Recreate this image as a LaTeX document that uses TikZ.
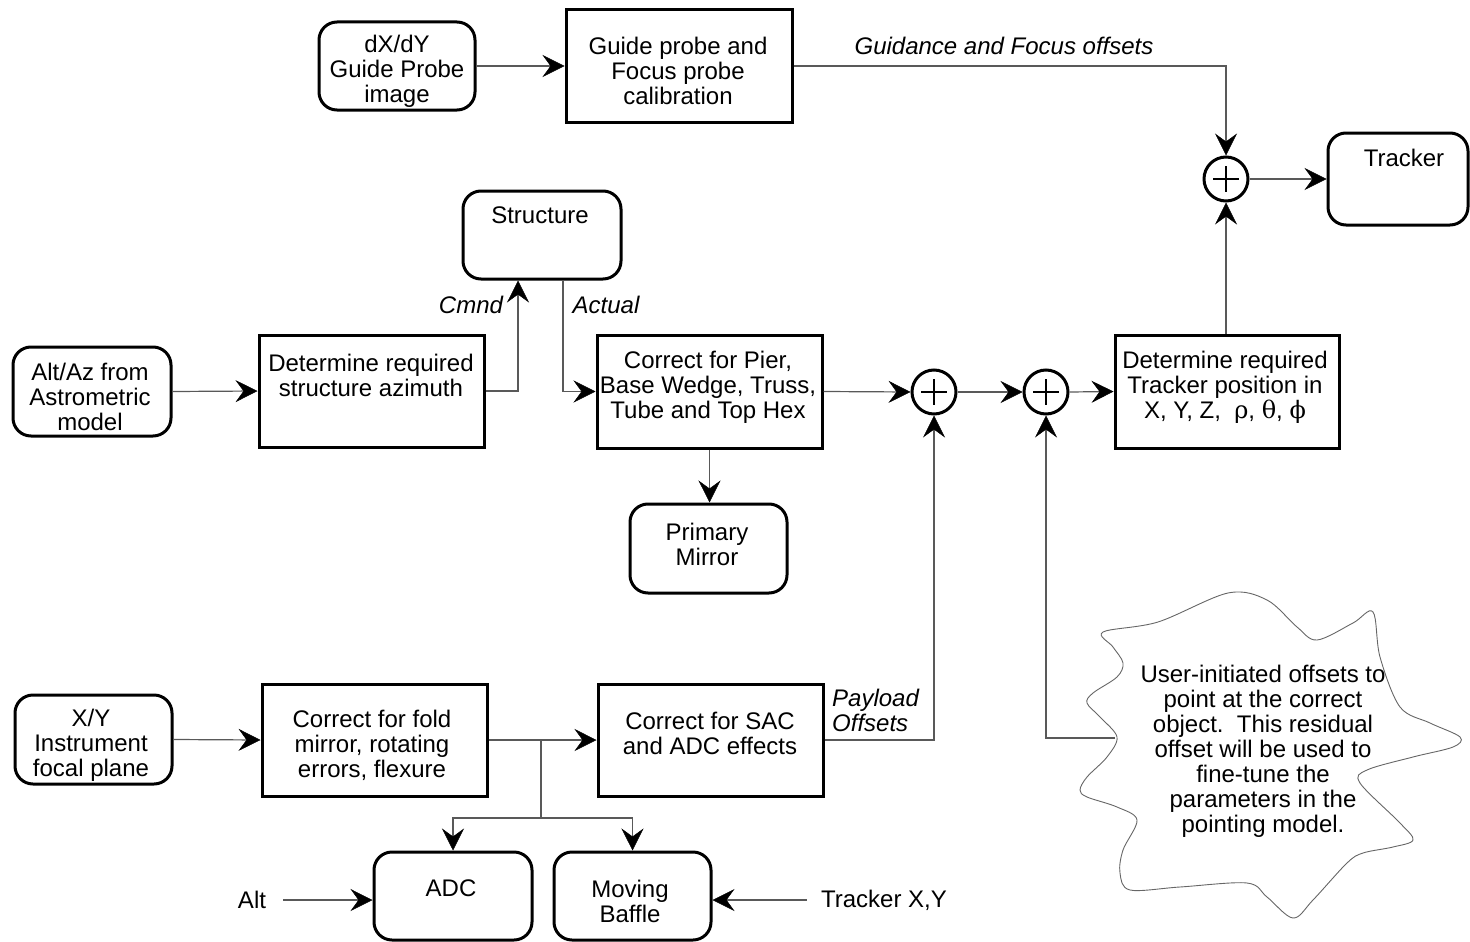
\documentclass[tikz,border=0pt]{standalone}
\usepackage{fontspec}
\setmainfont{Liberation Sans}
\newfontfamily\grk{DejaVu Serif}
\usetikzlibrary{arrows.meta}
\begin{document}
\begin{tikzpicture}[x=1pt,y=-1pt,
  every node/.style={font=\fontsize{24}{25}\selectfont, inner sep=0pt, align=center},
  sqbox/.style={draw, line width=3pt, minimum width=#1},
  rbox/.style={draw, line width=3pt, rounded corners=18pt, minimum width=#1},
  sumnode/.style={draw, circle, line width=3pt, minimum size=44pt},
  conn/.style={draw=black!65, line width=1.2pt},
  arr/.style={conn, -{Stealth[length=22pt,width=22pt,inset=8pt,fill=black,color=black,line width=0.5pt]}},
  lbl/.style={font=\fontsize{24}{25}\selectfont\itshape}
]
\useasboundingbox (0,0) rectangle (1470,942);

% ---- boxes ----
\node[rbox=156pt, minimum height=88pt] (dxdy) at (397,66) {};
\node at (397,71) {dX/dY\\Guide Probe\\image};
\node[sqbox=226pt, minimum height=112pt] (gpc) at (679,66) {};
\node at (678,71) {Guide probe and\\Focus probe\\calibration};

\node[rbox=140pt, minimum height=92pt] (trk) at (1398,179) {};
\node at (1404,158) {Tracker};

\node[rbox=158pt, minimum height=88pt] (struct) at (542,235) {};
\node at (540,215) {Structure};

\node[rbox=158pt, minimum height=89pt] (altaz) at (92,391.5) {};
\node at (90,397) {Alt/Az from\\Astrometric\\model};
\node[sqbox=225pt, minimum height=112pt] (dsa) at (371.5,391) {};
\node at (371,375) {Determine required\\structure azimuth};
\node[sqbox=225pt, minimum height=113pt] (cpier) at (709.5,391.5) {};
\node at (708,387) {Correct for Pier,\\Base Wedge, Truss,\\Tube and Top Hex};
\node[sqbox=224pt, minimum height=113pt] (dtp) at (1227,391.5) {};
\node at (1225,387) {Determine required\\Tracker position in\\X, Y, Z,\ \ {\grk ρ}, {\grk θ}, {\grk ϕ}};

\node[rbox=157pt, minimum height=89pt] (pm) at (708.5,548.5) {};
\node at (707,544) {Primary\\Mirror};

\node[rbox=157pt, minimum height=89pt] (xy) at (93.5,739.5) {};
\node at (91,745) {X/Y\\Instrument\\focal plane};
\node[sqbox=225pt, minimum height=112pt] (cfold) at (374.5,740) {};
\node at (372,745) {Correct for fold\\mirror, rotating\\errors, flexure};
\node[sqbox=225pt, minimum height=112pt] (csac) at (710.5,740) {};
\node at (710,733) {Correct for SAC\\and ADC effects};

\node[rbox=158pt, minimum height=88pt] (adc) at (453,896) {};
\node at (451,888) {ADC};
\node[rbox=157pt, minimum height=88pt] (mb) at (632.5,896) {};
\node at (630,901) {Moving\\Baffle};

% ---- summing junctions ----
\foreach \n/\cx/\cy in {s1/1226/179, s2/934/392, s3/1046/392}{
  \node[sumnode] (\n) at (\cx,\cy) {};
  \draw[line width=2.8pt] (\cx-13,\cy) -- (\cx+13,\cy) (\cx,\cy-13) -- (\cx,\cy+13);
}

% ---- free text ----
\node[lbl] at (1004,46) {Guidance and Focus offsets};
\node[lbl] at (471,305) {Cmnd};
\node[lbl] at (606,305) {Actual};
\node[lbl, align=left, anchor=west] at (832,710) {Payload\\Offsets};
\node (alt) at (252,900) {Alt};
\node (trxy) at (884,900) {Tracker X,Y};

% ---- cloud ----
\draw[black!60, line width=0.9pt] plot[smooth cycle, tension=0.55] coordinates {
 (1103,632) (1158,622) (1228,593) (1267,600) (1297,627) (1317,640) (1353,623)
 (1373,612) (1380,657) (1400,707) (1430,723) (1460,737) (1453,747) (1413,757)
 (1367,770) (1360,783) (1400,823) (1413,840) (1393,847) (1363,853) (1347,863)
 (1313,900) (1293,918) (1267,897) (1247,883) (1180,887) (1130,890) (1120,873)
 (1123,850) (1137,820) (1117,807) (1087,797) (1080,790) (1087,777) (1107,757)
 (1117,737) (1100,717) (1087,703) (1093,693) (1117,677) (1123,663) (1113,647)};
\node at (1263,751) {User-initiated offsets to\\point at the correct\\object.\ \ This residual\\offset will be used to\\fine-tune the\\parameters in the\\pointing model.};

% ---- connectors ----
\coordinate (cl) at (1115,738);
\coordinate (br) at (541,740);
\coordinate (bj) at (541,818);

\draw[arr] (dxdy.east) -- (gpc.west);
\draw[arr] (gpc.east) -| (s1.north);
\draw[arr] (s1.east) -- (trk.west);
\draw[arr] (s1.south |- dtp.north) -- (s1.south);

\draw[arr] (altaz.east) -- (dsa.west);
\draw[arr] (dsa.east) -| ([xshift=-24pt]struct.south);
\draw[arr] ([xshift=21pt]struct.south) |- (cpier.west);
\draw[arr] (cpier.east) -- (s2.west);
\draw[arr] (s2.east) -- (s3.west);
\draw[arr] (s3.east) -- (dtp.west);
\draw[arr] (cpier.south) -- (pm.north -| cpier.south);

\draw[arr] (xy.east) -- (cfold.west);
\draw[arr] (cfold.east) -- (csac.west);
\draw[conn] (br) -- (bj);
\draw[arr] (bj) -| (adc.north);
\draw[arr] (bj) -| (mb.north);
\draw[arr] (csac.east) -| (s2.south);
\draw[arr] (cl) -| (s3.south);

\draw[arr] ([xshift=17pt]alt.east) -- (alt -| adc.west);
\draw[arr] ([xshift=-14pt]trxy.west) -- (trxy -| mb.east);
\end{tikzpicture}
\end{document}
